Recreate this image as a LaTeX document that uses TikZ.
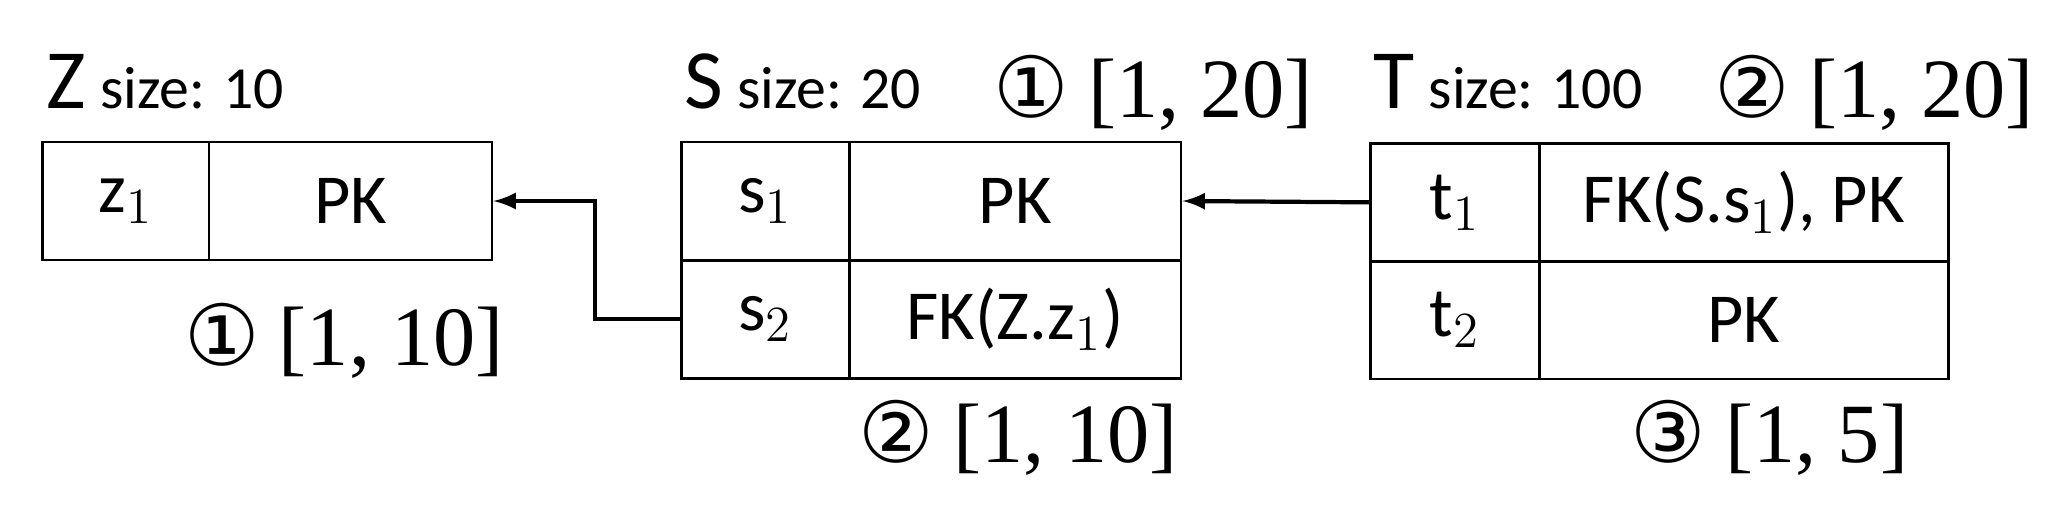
\documentclass[tikz,border=0pt]{standalone}
\usepackage{fontspec}
\setmainfont{Carlito}
\newfontfamily\brfont{Liberation Serif}
\newfontfamily\circfont{DejaVu Sans}
\usetikzlibrary{positioning}

\tikzset{
  cell/.style={draw, thick, inner sep=0pt, minimum height=1.18cm, font=\fontsize{20}{24}\selectfont},
  rangelabel/.style={font=\fontsize{24}{28}\selectfont, inner sep=0pt},
  title/.style={font=\fontsize{24}{28}\selectfont, inner sep=0pt, anchor=base west},
  link/.style={very thick, -latex}
}

\begin{document}
\begin{tikzpicture}[x=0.013226cm, y=-0.013226cm]
    \useasboundingbox (0,0) rectangle (1550,391);
    % table Z
    \node[cell, minimum width=1.667cm] (z1) at (95,152) {z$_1$};
    \node[cell, minimum width=2.830cm] (zk) at (265,152) {PK};
    % table S
    \node[cell, minimum width=1.680cm] (s1) at (578.5,152) {s$_1$};
    \node[cell, minimum width=3.320cm] (sk) at (767.5,152) {PK};
    \node[cell, minimum width=1.680cm] (s2) at (578.5,241.5) {s$_2$};
    \node[cell, minimum width=3.320cm] (sf) at (767.5,241.5) {FK(Z.z$_1$)};
    % table T
    \node[cell, minimum width=1.693cm] (t1) at (1100,153) {t$_1$};
    \node[cell, minimum width=4.087cm] (tf) at (1318.5,153) {FK(S.s$_1$), PK};
    \node[cell, minimum width=1.693cm] (t2) at (1100,242) {t$_2$};
    \node[cell, minimum width=4.087cm] (tk) at (1318.5,242) {PK};
    % titles
    \node[title] (zt) at (35,82) {Z\,{\fontsize{17}{20}\selectfont size: 10}};
    \node[title] (st) at (517,82) {S\,{\fontsize{17}{20}\selectfont size: 20}};
    \node[title] (tt) at (1038,82) {T\,{\fontsize{17}{20}\selectfont size: 100}};
    % ranges
    \node[rangelabel] (r1) at (872,70) {{\circfont ①} {\brfont [1, 20]}};
    \node[rangelabel] (r2) at (1417,70) {{\circfont ②} {\brfont [1, 20]}};
    \node[rangelabel] (r3) at (260,258) {{\circfont ①} {\brfont [1, 10]}};
    \node[rangelabel] (r4) at (770,331) {{\circfont ②} {\brfont [1, 10]}};
    \node[rangelabel] (r5) at (1338,331) {{\circfont ③} {\brfont [1, 5]}};
    % references
    \draw[link] (s2.west) -| (450,152) -- (zk.east);
    \draw[link] (t1.west) -- (sk.east);
\end{tikzpicture}
\end{document}
